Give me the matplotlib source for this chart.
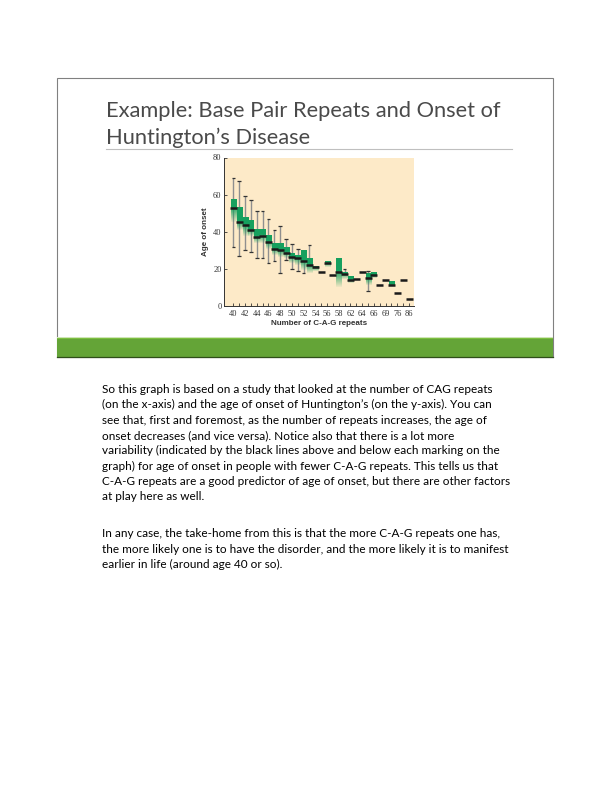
import numpy as np
import matplotlib
matplotlib.use('Agg')
import matplotlib.pyplot as plt
from matplotlib.patches import Rectangle

# === data ===
cag_repeats = ['40', '41', '42', '43', '44', '45', '46', '47', '48', '49', '50', '51', '52', '53',
               '54', '55', '56', '57', '58', '', '62', '', '64', '', '66', '', '69', '', '76', '', '86']
median_onset = [52.9, 45.0, 43.5, 41.0, 37.2, 37.8, 34.3, 30.8, 29.9, 28.6, 26.3, 25.7, 24.0, 21.9,
                20.7, 18.2, 23.0, 16.8, 18.0, 16.9, 13.9, 14.6, 18.0, 14.9, 16.4, 11.0, 14.1, 11.1,
                6.8, 13.9, 3.5]
nan = np.nan
box_top = [57.6, 52.9, 47.8, 45.8, 40.8, 40.8, 37.6, 33.6, 33.6, 31.1, 27.9, 27.1, 29.7, 25.5,
           21.4, nan, 23.7, nan, 25.5, 17.6, 15.5, nan, nan, 17.4, 17.8, nan, nan, 12.8, nan, nan, nan]
box_bottom = [45.3, 40.8, 37.6, 37.6, 33.6, 33.6, 30.4, 27.3, 26.4, 25.5, 22.8, 21.9, 19.2, 17.8,
              18.9, nan, 21.0, nan, 9.9, 14.2, 12.0, nan, nan, 11.1, 15.0, nan, nan, 10.5, nan, nan, nan]
whisker_hi = [68.7, 67.1, 59.0, 56.8, 51.2, 51.2, 46.6, 40.6, 42.8, 35.8, 33.1, 30.7, 29.0, 33.0,
              nan, nan, nan, nan, nan, 19.6, nan, nan, nan, 18.9, nan, nan, nan, nan, nan, nan, nan]
whisker_lo = [31.6, 27.0, 29.8, 28.8, 25.5, 25.5, 22.8, 24.1, 17.6, 24.6, 19.8, 19.0, 17.8, nan,
              nan, nan, nan, nan, nan, nan, nan, nan, nan, 8.1, nan, nan, nan, nan, nan, nan, nan]

title_lines = ["Example: Base Pair Repeats and Onset of", "Huntington’s Disease"]
para1 = [
    "So this graph is based on a study that looked at the number of CAG repeats",
    "(on the x-axis) and the age of onset of Huntington’s (on the y-axis). You can",
    "see that, first and foremost, as the number of repeats increases, the age of",
    "onset decreases (and vice versa). Notice also that there is a lot more",
    "variability (indicated by the black lines above and below each marking on the",
    "graph) for age of onset in people with fewer C-A-G repeats. This tells us that",
    "C-A-G repeats are a good predictor of age of onset, but there are other factors",
    "at play here as well.",
]
para2 = [
    "In any case, the take-home from this is that the more C-A-G repeats one has,",
    "the more likely one is to have the disorder, and the more likely it is to manifest",
    "earlier in life (around age 40 or so).",
]

GREEN = np.array([0.09, 0.63, 0.37])
BEIGE = '#fdeac8'
W, H = 612, 792

fig = plt.figure(figsize=(W / 100, H / 100), dpi=100)
renderer = fig.canvas.get_renderer()


def fit_size(text, target_w, **kw):
    t = fig.text(0, 0, text, fontsize=10, **kw)
    w = t.get_window_extent(renderer).width
    t.remove()
    return 10 * target_w / w


# page in pixel coordinates
page = fig.add_axes([0, 0, 1, 1])
page.set_xlim(0, W)
page.set_ylim(H, 0)
page.axis('off')

# slide frame and green band
page.add_patch(Rectangle((57, 77.5), 496, 279.5, fill=False, edgecolor='#808080', lw=0.8))
page.add_patch(Rectangle((57, 336.7), 496, 1.2, color='#cfe5b8', lw=0))
page.add_patch(Rectangle((57, 337.9), 496, 1.5, color='#7dbf3f', lw=0))
page.add_patch(Rectangle((57, 339.4), 496, 17.3, color='#64a437', lw=0))
page.plot([57, 553], [357, 357], color='#2f4f1a', lw=0.9)

# title
tfs = fit_size(title_lines[0], 394, family='Lato')
page.text(106, 116.7, title_lines[0], fontsize=tfs, family='Lato',
          color='#4a4a4a', va='baseline')
page.text(106, 144, title_lines[1], fontsize=tfs, family='Lato',
          color='#4a4a4a', va='baseline')
page.plot([106, 512], [149.3, 149.3], color='#bfbfbf', lw=0.8)

# body text
bfs = fit_size(para1[0], 388, family='Lato')
for i, line in enumerate(para1):
    page.text(102, 392.7 + 15.4 * i, line, fontsize=bfs, family='Lato', color='black', va='baseline')
for i, line in enumerate(para2):
    page.text(102, 537.3 + 15.4 * i, line, fontsize=bfs, family='Lato', color='black', va='baseline')

# chart
x0, x1, ytop, ybot = 224.3, 414, 157.5, 305.7
ax = fig.add_axes([x0 / W, 1 - ybot / H, (x1 - x0) / W, (ybot - ytop) / H])
ax.set_facecolor(BEIGE)
xs = np.arange(len(cag_repeats))

for i in xs:
    hi, lo, m = whisker_hi[i], whisker_lo[i], median_onset[i]
    if np.isnan(hi) and np.isnan(lo):
        continue
    top = hi if not np.isnan(hi) else m
    bot = lo if not np.isnan(lo) else m
    ax.vlines(i, bot, top, colors='#8f8f8f', lw=1.0, zorder=2)
    for v in (hi, lo):
        if not np.isnan(v):
            ax.hlines(v, i - 0.3, i + 0.3, colors='#333333', lw=0.9, zorder=2)

bw = 0.43
for i in xs:
    t, b, m = box_top[i], box_bottom[i], median_onset[i]
    if np.isnan(t):
        continue
    ys = np.linspace(t, b, 80)
    alpha = np.where(ys >= m, 1.0, 0.85 * (ys - b) / max(m - b, 1e-6) + 0.05)
    img = np.zeros((80, 1, 4))
    img[:, 0, :3] = GREEN
    img[:, 0, 3] = np.clip(alpha, 0, 1)
    ax.imshow(img, extent=[i - bw, i + bw, b, t], aspect='auto', interpolation='bilinear', zorder=3)

ax.hlines(median_onset, xs - 0.6, xs + 0.6, colors='#1a1a1a', lw=1.8, zorder=4)

ax.set_xlim(-1.54, 30.85)
ax.set_ylim(0, 80)
ax.set_aspect('auto')
ax.set_xticks(xs)
ax.set_xticklabels([lab if i % 2 == 0 else '' for i, lab in enumerate(cag_repeats)],
                   family='Liberation Serif')
ax.set_yticks([0, 20, 40, 60, 80])
ax.set_yticklabels(['0', '20', '40', '60', '80'], family='Liberation Serif')
ax.tick_params(direction='in', length=2, width=0.6, labelsize=6, colors='#333333')
ax.tick_params(axis='x', pad=3)
ax.tick_params(axis='y', pad=2)
for s in ('top', 'right'):
    ax.spines[s].set_visible(False)
for s in ('left', 'bottom'):
    ax.spines[s].set_color('#333333')
    ax.spines[s].set_linewidth(0.7)
ax.set_xlabel('Number of C-A-G repeats', fontsize=5.8, fontweight='bold', family='Liberation Sans',
              color='#333333', labelpad=1.5)
ax.set_ylabel('Age of onset', fontsize=5.8, fontweight='bold', family='Liberation Sans',
              color='#333333', labelpad=3)

fig.savefig('out.png', dpi=100)
